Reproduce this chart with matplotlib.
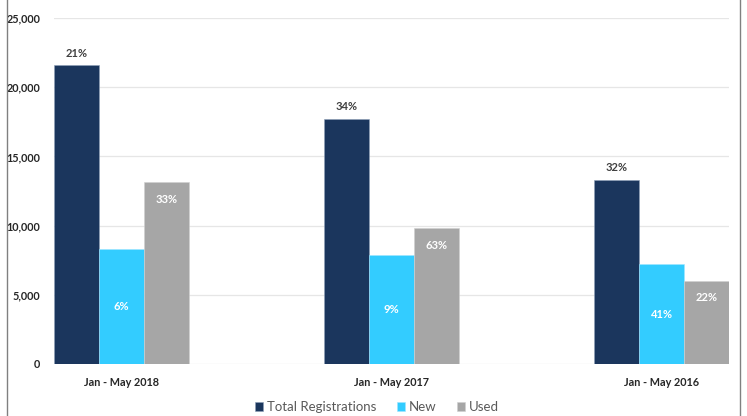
import matplotlib
matplotlib.use("Agg")
import matplotlib.pyplot as plt
import numpy as np
from matplotlib.lines import Line2D

categories = ["Jan - May 2018", "Jan - May 2017", "Jan - May 2016"]
total = [21570, 17730, 13270]
new = [8320, 7870, 7220]
used = [13120, 9800, 5990]
total_pct = ["21%", "34%", "32%"]
new_pct = ["6%", "9%", "41%"]
used_pct = ["33%", "63%", "22%"]
series_names = ["Total Registrations", "New", "Used"]
colors = ["#1B365D", "#33CCFF", "#A6A6A6"]

plt.rcParams['font.family'] = ['Lato', 'DejaVu Sans']

fig = plt.figure(figsize=(7.47, 4.16), dpi=100)
ax = fig.add_axes([54.3/747, 1-364/416, 674.7/747, 346/416])

x = np.arange(len(categories))
w = 0.1663
b1 = ax.bar(x - w, total, w, color=colors[0], label=series_names[0], zorder=3,
            edgecolor="#8fa0b8", linewidth=0.4)
b2 = ax.bar(x, new, w, color=colors[1], label=series_names[1], zorder=3,
            edgecolor="#a0e6ff", linewidth=0.4)
b3 = ax.bar(x + w, used, w, color=colors[2], label=series_names[2], zorder=3,
            edgecolor="#d0d0d0", linewidth=0.4)

ax.bar_label(b1, labels=total_pct, padding=5, fontsize=8, fontweight='bold', color="#404040")
ax.bar_label(b2, labels=new_pct, label_type='center', fontsize=8, fontweight='bold', color="white")
ax.bar_label(b3, labels=used_pct, padding=-16, fontsize=8, fontweight='bold', color="white")

ax.set_xlim(-1.5*w, 2 + 1.5*w)
ax.set_ylim(0, 25000)
ax.set_yticks(np.arange(0, 25001, 5000))
ax.set_yticklabels([f"{v:,}" for v in range(0, 25001, 5000)])
ax.set_xticks(x)
ax.set_xticklabels(categories)
ax.tick_params(axis='both', length=0, labelsize=7.8, labelcolor="#262626")
ax.tick_params(axis='y', pad=10)
ax.tick_params(axis='x', pad=9)
for lab in ax.get_xticklabels() + ax.get_yticklabels():
    lab.set_fontweight('bold')

ax.grid(axis='y', color="#E6E6E6", linewidth=0.9, zorder=0)
for s in ax.spines.values():
    s.set_visible(False)

leg = fig.legend(handles=[b1, b2, b3], labels=series_names, loc='center',
                 bbox_to_anchor=(377/747, 1-407/416), ncol=3, frameon=False,
                 fontsize=9.5, handlelength=0.65, handleheight=0.65, handletextpad=0.3,
                 columnspacing=1.5, labelcolor="#595959")

fig.add_artist(Line2D([7/747, 7/747], [0, 1], color="#808080", linewidth=1.0))
fig.add_artist(Line2D([740/747, 740/747], [0, 1], color="#808080", linewidth=1.0))

fig.savefig("out.png", dpi=100)
